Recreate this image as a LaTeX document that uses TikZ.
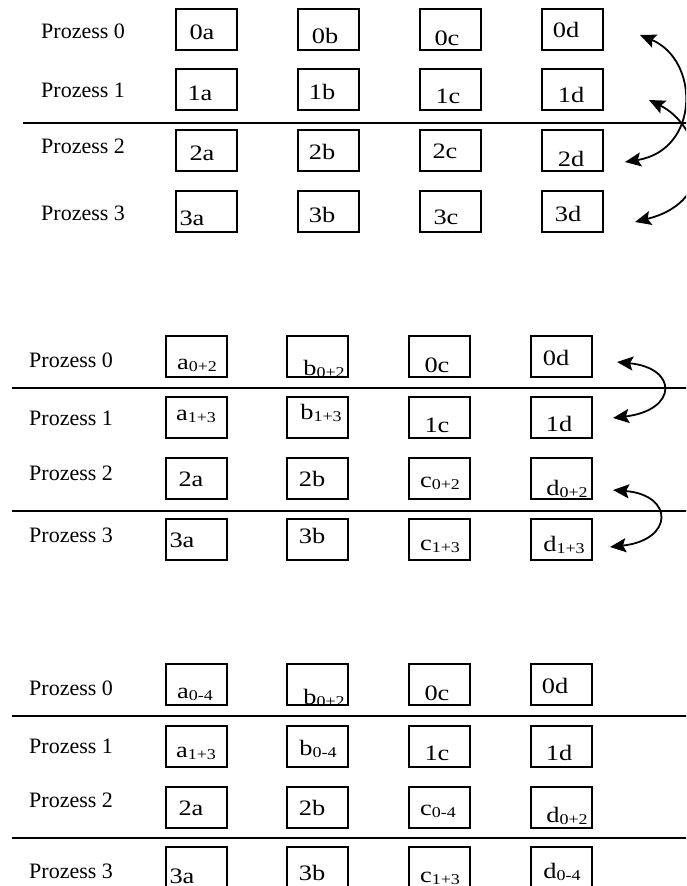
\documentclass[tikz,border=0pt]{standalone}
\usepackage{fontspec}
\setmainfont{Liberation Serif}
\newfontfamily\labfont{Liberation Serif}
\newfontfamily\boxfont{Liberation Serif}[FakeStretch=1.2]
\usetikzlibrary{arrows.meta}
\tikzset{
  cell/.style={draw, line width=1.8pt, minimum width=61pt, minimum height=41pt, inner sep=0pt, outer sep=0pt},
  celltext/.style={anchor=base, inner sep=0pt, font=\boxfont\fontsize{22}{22}\selectfont},
  proc/.style={anchor=base west, inner sep=0pt, font=\labfont\fontsize{22}{22}\selectfont},
  sepline/.style={line width=1.8pt},
  swaparrow/.style={line width=1.8pt, {Stealth[length=16pt,width=14pt,inset=3pt]}-{Stealth[length=16pt,width=14pt,inset=3pt]}}
}
\newcommand\sbx[1]{\raisebox{-2.5pt}{\fontsize{15}{15}\selectfont #1}}
\newcommand\cellbox[6]{%
  \node[cell] (#1) at (#2+30.5,#3+20.5) {};
  \node[celltext] (#1t) at (#4,#5) {#6};}
\begin{document}
\begin{tikzpicture}[x=1pt,y=-1pt]
\useasboundingbox (0,0) rectangle (686,886);
\fill[white] (0,0) rectangle (686,886);
\clip (0,0) rectangle (686,886);

% ---------- Section 1 ----------
\node[proc] (p10) at (41,38) {Prozess 0};
\node[proc] (p11) at (41,97) {Prozess 1};
\node[proc] (p12) at (41,153) {Prozess 2};
\node[proc] (p13) at (41,220) {Prozess 3};

\cellbox{s1a0}{176}{9}{202}{39}{0a}
\cellbox{s1b0}{298}{9}{325}{43}{0b}
\cellbox{s1c0}{420}{9}{447}{45}{0c}
\cellbox{s1d0}{542}{9}{566}{37}{0d}
\cellbox{s1a1}{176}{69}{200}{100}{1a}
\cellbox{s1b1}{298}{69}{322}{99}{1b}
\cellbox{s1c1}{420}{69}{448}{103}{1c}
\cellbox{s1d1}{542}{69}{571}{102}{1d}
\cellbox{s1a2}{176}{130}{202}{160}{2a}
\cellbox{s1b2}{298}{130}{322}{159}{2b}
\cellbox{s1c2}{420}{130}{445}{158}{2c}
\cellbox{s1d2}{542}{130}{571}{166}{2d}
\cellbox{s1a3}{176}{191}{192}{225}{3a}
\cellbox{s1b3}{298}{191}{322}{222}{3b}
\cellbox{s1c3}{420}{191}{446}{224}{3c}
\cellbox{s1d3}{542}{191}{568}{221}{3d}

\coordinate (l1s) at (23,123);
\coordinate (l1e) at (690,123);
\draw[sepline] (l1s) -- (l1e);

\coordinate (A0) at (640,35);
\coordinate (A2) at (625,162);
\coordinate (B1) at (649,100);
\coordinate (B3) at (635,222);
\draw[swaparrow] (A0) .. controls (700,60) and (700,150) .. (A2);
\draw[swaparrow] (B1) .. controls (700,125) and (722,200) .. (B3);

% ---------- Section 2 ----------
\node[proc] (p20) at (29,367) {Prozess 0};
\node[proc] (p21) at (29,425) {Prozess 1};
\node[proc] (p22) at (29,480) {Prozess 2};
\node[proc] (p23) at (29,542) {Prozess 3};

\cellbox{s2a0}{166}{336}{197}{369}{a\sbx{0+2}}
\cellbox{s2b0}{287}{336}{324}{375}{b\sbx{0+2}}
\cellbox{s2c0}{409}{336}{437}{372}{0c}
\cellbox{s2d0}{531}{336}{556}{365}{0d}
\cellbox{s2a1}{166}{397}{196}{420}{a\sbx{1+3}}
\cellbox{s2b1}{287}{397}{321}{419}{b\sbx{1+3}}
\cellbox{s2c1}{409}{397}{437}{432}{1c}
\cellbox{s2d1}{531}{397}{559}{431}{1d}
\cellbox{s2a2}{166}{458}{191}{486}{2a}
\cellbox{s2b2}{287}{458}{312}{486}{2b}
\cellbox{s2c2}{409}{458}{440}{487}{c\sbx{0+2}}
\cellbox{s2d2}{531}{458}{567}{495}{d\sbx{0+2}}
\cellbox{s2a3}{166}{519}{182}{547}{3a}
\cellbox{s2b3}{287}{519}{312}{543}{3b}
\cellbox{s2c3}{409}{519}{440}{550}{c\sbx{1+3}}
\cellbox{s2d3}{531}{519}{564}{551}{d\sbx{1+3}}

\coordinate (l2s) at (12,388);
\coordinate (l2e) at (690,388);
\coordinate (l3s) at (12,511);
\coordinate (l3e) at (690,511);
\draw[sepline] (l2s) -- (l2e);
\draw[sepline] (l3s) -- (l3e);

\coordinate (C0) at (617,362);
\coordinate (C1) at (613,418);
\coordinate (D2) at (613,490);
\coordinate (D3) at (610,547);
\draw[swaparrow] (C0) .. controls (678,368) and (678,410) .. (C1);
\draw[swaparrow] (D2) .. controls (674,495) and (674,540) .. (D3);

% ---------- Section 3 ----------
\node[proc] (p30) at (29,695) {Prozess 0};
\node[proc] (p31) at (29,753) {Prozess 1};
\node[proc] (p32) at (29,807) {Prozess 2};
\node[proc] (p33) at (29,878) {Prozess 3};

\cellbox{s3a0}{166}{664}{195}{698}{a\sbx{0-4}}
\cellbox{s3b0}{287}{664}{324}{704}{b\sbx{0+2}}
\cellbox{s3c0}{409}{664}{437}{700}{0c}
\cellbox{s3d0}{531}{664}{555}{693}{0d}
\cellbox{s3a1}{166}{726}{196}{757}{a\sbx{1+3}}
\cellbox{s3b1}{287}{726}{318}{755}{b\sbx{0-4}}
\cellbox{s3c1}{409}{726}{437}{760}{1c}
\cellbox{s3d1}{531}{726}{559}{760}{1d}
\cellbox{s3a2}{166}{787}{191}{815}{2a}
\cellbox{s3b2}{287}{787}{312}{815}{2b}
\cellbox{s3c2}{409}{787}{438}{815}{c\sbx{0-4}}
\cellbox{s3d2}{531}{787}{567}{822}{d\sbx{0+2}}
\cellbox{s3a3}{166}{847}{182}{883}{3a}
\cellbox{s3b3}{287}{847}{312}{880}{3b}
\cellbox{s3c3}{409}{847}{440}{882}{c\sbx{1+3}}
\cellbox{s3d3}{531}{847}{562}{878}{d\sbx{0-4}}

\coordinate (l4s) at (12,716);
\coordinate (l4e) at (690,716);
\coordinate (l5s) at (12,838);
\coordinate (l5e) at (690,838);
\draw[sepline] (l4s) -- (l4e);
\draw[sepline] (l5s) -- (l5e);
\end{tikzpicture}
\end{document}
